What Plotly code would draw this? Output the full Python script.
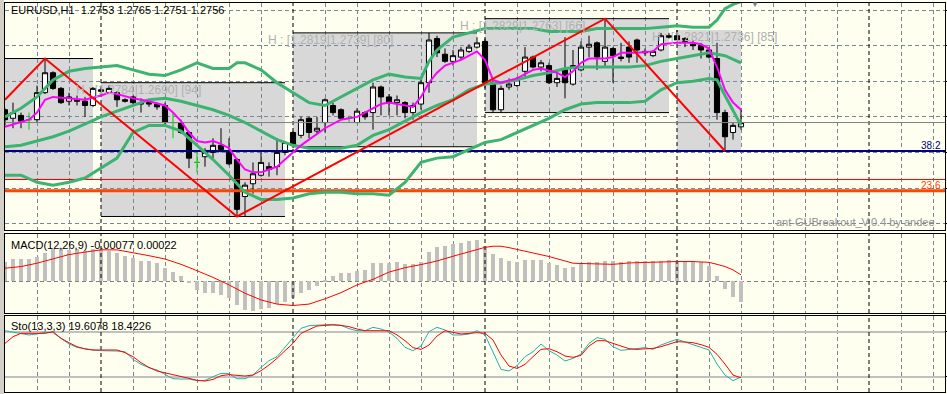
import plotly.graph_objects as go

W, H = 947, 394

# ---------------- data ----------------
symbol = "EURUSD,H1"
bar_index = list(range(93))
open_ = [1.2765, 1.2759, 1.2761, 1.2758, 1.2758, 1.2777, 1.2791, 1.2780, 1.2771, 1.2772,
         1.2771, 1.2768, 1.2779, 1.2777, 1.2777, 1.2772, 1.2774, 1.2770, 1.2770, 1.2769,
         1.2768, 1.2756, 1.2756, 1.2749, 1.2728, 1.2732, 1.2735, 1.2740, 1.2735, 1.2730,
         1.2704, 1.2713, 1.2719, 1.2725, 1.2725, 1.2735, 1.2749, 1.2747, 1.2759, 1.2750,
         1.2756, 1.2768, 1.2765, 1.2759, 1.2756, 1.2763, 1.2763, 1.2781, 1.2774, 1.2770,
         1.2770, 1.2763, 1.2769, 1.2784, 1.2815, 1.2804, 1.2799, 1.2802, 1.2806, 1.2809,
         1.2813, 1.2784, 1.2765, 1.2781, 1.2782, 1.2792, 1.2802, 1.2795, 1.2796, 1.2784,
         1.2793, 1.2783, 1.2793, 1.2809, 1.2812, 1.2799, 1.2808, 1.2801, 1.2809, 1.2814,
         1.2806, 1.2803, 1.2807, 1.2817, 1.2817, 1.2815, 1.2811, 1.2810, 1.2807, 1.2801,
         1.2763, 1.2749, 1.2753]
high = [1.2766, 1.2770, 1.2763, 1.2763, 1.2782, 1.2801, 1.2792, 1.2781, 1.2777, 1.2775,
        1.2774, 1.2781, 1.2780, 1.2782, 1.2778, 1.2773, 1.2775, 1.2773, 1.2772, 1.2770,
        1.2770, 1.2763, 1.2758, 1.2750, 1.2735, 1.2738, 1.2745, 1.2752, 1.2745, 1.2731,
        1.2714, 1.2728, 1.2735, 1.2728, 1.2745, 1.2743, 1.2750, 1.2760, 1.2760, 1.2760,
        1.2773, 1.2770, 1.2766, 1.2761, 1.2766, 1.2764, 1.2784, 1.2782, 1.2776, 1.2775,
        1.2771, 1.2770, 1.2786, 1.2819, 1.2817, 1.2808, 1.2807, 1.2809, 1.2811, 1.2816,
        1.2815, 1.2786, 1.2782, 1.2787, 1.2788, 1.2809, 1.2803, 1.2800, 1.2798, 1.2791,
        1.2816, 1.2807, 1.2813, 1.2817, 1.2813, 1.2829, 1.2809, 1.2812, 1.2813, 1.2815,
        1.2808, 1.2807, 1.2819, 1.2819, 1.2821, 1.2816, 1.2814, 1.2812, 1.2809, 1.2812,
        1.2765, 1.2756, 1.2765]
low = [1.2754, 1.2752, 1.2752, 1.2751, 1.2756, 1.2776, 1.2779, 1.2769, 1.2768, 1.2768,
       1.2760, 1.2767, 1.2777, 1.2776, 1.2767, 1.2770, 1.2769, 1.2763, 1.2767, 1.2765,
       1.2755, 1.2745, 1.2748, 1.2724, 1.2721, 1.2725, 1.2730, 1.2735, 1.2726, 1.2690,
       1.2690, 1.2706, 1.2718, 1.2718, 1.2719, 1.2733, 1.2738, 1.2745, 1.2745, 1.2748,
       1.2749, 1.2761, 1.2758, 1.2756, 1.2756, 1.2758, 1.2751, 1.2761, 1.2761, 1.2761,
       1.2759, 1.2758, 1.2765, 1.2777, 1.2802, 1.2798, 1.2796, 1.2800, 1.2805, 1.2808,
       1.2780, 1.2763, 1.2763, 1.2779, 1.2781, 1.2788, 1.2794, 1.2792, 1.2783, 1.2781,
       1.2773, 1.2782, 1.2792, 1.2802, 1.2793, 1.2795, 1.2784, 1.2799, 1.2798, 1.2798,
       1.2803, 1.2802, 1.2806, 1.2815, 1.2813, 1.2809, 1.2807, 1.2801, 1.2801, 1.2758,
       1.2736, 1.2744, 1.2751]
close = [1.2758, 1.2763, 1.2757, 1.2758, 1.2777, 1.2791, 1.2780, 1.2770, 1.2774, 1.2771,
         1.2768, 1.2780, 1.2778, 1.2780, 1.2772, 1.2771, 1.2770, 1.2769, 1.2769, 1.2767,
         1.2756, 1.2756, 1.2749, 1.2731, 1.2728, 1.2735, 1.2740, 1.2737, 1.2727, 1.2695,
         1.2712, 1.2720, 1.2728, 1.2723, 1.2735, 1.2742, 1.2740, 1.2758, 1.2749, 1.2752,
         1.2772, 1.2763, 1.2759, 1.2759, 1.2764, 1.2760, 1.2781, 1.2774, 1.2770, 1.2772,
         1.2763, 1.2768, 1.2784, 1.2814, 1.2805, 1.2799, 1.2803, 1.2807, 1.2809, 1.2812,
         1.2784, 1.2765, 1.2780, 1.2783, 1.2786, 1.2802, 1.2795, 1.2798, 1.2784, 1.2787,
         1.2784, 1.2796, 1.2809, 1.2811, 1.2802, 1.2809, 1.2803, 1.2802, 1.2802, 1.2807,
         1.2805, 1.2806, 1.2817, 1.2816, 1.2814, 1.2813, 1.2810, 1.2807, 1.2802, 1.2763,
         1.2746, 1.2754, 1.2756]

# Bollinger bands
upper_bars = [0, 2, 4, 6, 8, 10, 12, 14, 16, 18, 20, 22, 24, 26, 28, 29, 30, 32, 34, 36, 38, 40,
              42, 44, 46, 48, 50, 52, 53, 54, 56, 58, 60, 62, 64, 66, 68, 70, 72, 74, 76, 78, 80,
              82, 84, 86, 88, 89, 90, 91, 92]
upper_band = [1.2760, 1.2766, 1.2774, 1.2786, 1.2792, 1.2794, 1.2795, 1.2796, 1.2793, 1.2790,
              1.2789, 1.2793, 1.2798, 1.2794, 1.2794, 1.2798, 1.2798, 1.2793, 1.2784, 1.2777,
              1.2770, 1.2768, 1.2774, 1.2780, 1.2786, 1.2790, 1.2788, 1.2787, 1.2799, 1.2807,
              1.2816, 1.2819, 1.2822, 1.2822, 1.2822, 1.2822, 1.2820, 1.2820, 1.2820, 1.2822,
              1.2822, 1.2822, 1.2822, 1.2823, 1.2824, 1.2823, 1.2823, 1.2828, 1.2836, 1.2839,
              1.2841]
middle_bars = list(range(0, 93, 2))
middle_band = [1.2739, 1.2740, 1.2743, 1.2746, 1.2750, 1.2755, 1.2760, 1.2764, 1.2768, 1.2772,
               1.2773, 1.2771, 1.2768, 1.2765, 1.2761, 1.2756, 1.2750, 1.2744, 1.2740, 1.2738,
               1.2738, 1.2738, 1.2740, 1.2747, 1.2751, 1.2757, 1.2763, 1.2768, 1.2772, 1.2779,
               1.2783, 1.2784, 1.2786, 1.2789, 1.2791, 1.2794, 1.2795, 1.2795, 1.2795, 1.2795,
               1.2796, 1.2799, 1.2801, 1.2803, 1.2805, 1.2803, 1.2798]
lower_bars = list(range(0, 89, 2)) + [89, 90, 91, 92]
lower_band = [1.2719, 1.2719, 1.2714, 1.2712, 1.2714, 1.2717, 1.2724, 1.2731, 1.2749, 1.2754,
              1.2754, 1.2750, 1.2740, 1.2730, 1.2719, 1.2707, 1.2702, 1.2702, 1.2703, 1.2706,
              1.2707, 1.2707, 1.2706, 1.2706, 1.2705, 1.2714, 1.2728, 1.2731, 1.2732, 1.2737,
              1.2742, 1.2744, 1.2749, 1.2754, 1.2759, 1.2765, 1.2769, 1.2770, 1.2770, 1.2770,
              1.2771, 1.2779, 1.2784, 1.2785, 1.2787, 1.2786, 1.2775, 1.2765, 1.2754]

# fast moving average (magenta)
ma_bars = [0, 2, 3, 4, 5, 6, 8, 10, 12, 13, 14, 16, 18, 20, 21, 22, 23, 24, 25, 26, 27, 28, 29,
           30, 31, 32, 33, 34, 35, 36, 37, 38, 39, 40, 42, 44, 45, 46, 47, 48, 50, 51, 52, 53,
           54, 55, 57, 58, 59, 60, 61, 62, 64, 66, 67, 69, 70, 71, 72, 73, 75, 76, 77, 79, 81,
           82, 84, 86, 87, 88, 89, 90, 91, 92]
ma_values = [1.2753, 1.2756, 1.2758, 1.2763, 1.2772, 1.2774, 1.2773, 1.2772, 1.2775, 1.2777,
             1.2776, 1.2773, 1.2771, 1.2768, 1.2763, 1.2757, 1.2749, 1.2743, 1.2742, 1.2743,
             1.2741, 1.2738, 1.2730, 1.2723, 1.2721, 1.2721, 1.2723, 1.2725, 1.2730, 1.2735,
             1.2740, 1.2744, 1.2748, 1.2752, 1.2758, 1.2760, 1.2763, 1.2766, 1.2769, 1.2770,
             1.2768, 1.2767, 1.2774, 1.2784, 1.2791, 1.2796, 1.2800, 1.2803, 1.2806, 1.2800,
             1.2786, 1.2784, 1.2787, 1.2793, 1.2794, 1.2791, 1.2788, 1.2792, 1.2798, 1.2801,
             1.2801, 1.2802, 1.2805, 1.2805, 1.2806, 1.2811, 1.2812, 1.2812, 1.2811, 1.2808,
             1.2795, 1.2779, 1.2770, 1.2765]

# ZigZag
zigzag_bars = [0, 5, 29, 75, 90]
zigzag_values = [1.2772, 1.2801, 1.2690, 1.2829, 1.2736]

# daily range boxes
box_start = [-12, 12, 36, 60, 84]
box_end = [11, 35, 59, 83, 92]
box_high = [1.2801, 1.2784, 1.2819, 1.2829, 1.2821]
box_low = [1.2716, 1.2690, 1.2739, 1.2763, 1.2736]
box_top_line = [True, True, True, True, False]

# horizontal levels
fib_levels = [1.2736, 1.2708]
fib_labels = ["38.2", "23.6"]
fib_colors = ["#000080", "#FF4500"]
fib_widths = [2, 3]
red_level = 1.2716
bid_level = 1.2756
price_grid = [1.2685, 1.2710, 1.2735, 1.2760, 1.2785, 1.2810, 1.2835]

# MACD(12,26,9)
macd_hist = [0.00070, 0.00079, 0.00079, 0.00079, 0.00088, 0.00102, 0.00115, 0.00118, 0.00112, 0.00115,
             0.00109, 0.00115, 0.00115, 0.00109, 0.00100, 0.00090, 0.00082, 0.00073, 0.00072, 0.00064,
             0.00046, 0.00031, 0.00018, -0.00008, -0.00032, -0.00042, -0.00044, -0.00050, -0.00062, -0.00086,
             -0.00104, -0.00107, -0.00102, -0.00098, -0.00083, -0.00074, -0.00062, -0.00042, -0.00032, -0.00018,
             0.00002, 0.00018, 0.00028, 0.00030, 0.00036, 0.00040, 0.00064, 0.00064, 0.00064, 0.00067,
             0.00061, 0.00061, 0.00070, 0.00103, 0.00121, 0.00127, 0.00133, 0.00138, 0.00144, 0.00148,
             0.00126, 0.00097, 0.00083, 0.00072, 0.00068, 0.00076, 0.00076, 0.00076, 0.00065, 0.00058,
             0.00047, 0.00050, 0.00061, 0.00068, 0.00068, 0.00072, 0.00072, 0.00068, 0.00072, 0.00072,
             0.00072, 0.00072, 0.00072, 0.00076, 0.00072, 0.00072, 0.00072, 0.00068, 0.00055, 0.00018,
             -0.00029, -0.00056, -0.00077]
signal_bars = [0, 2, 4, 6, 8, 10, 12, 14, 16, 18, 20, 22, 24, 26, 28, 30, 32, 34, 36, 38, 40, 42,
               44, 46, 48, 50, 52, 54, 56, 58, 59, 60, 61, 62, 63, 64, 66, 68, 70, 71, 72, 74, 76,
               78, 80, 82, 84, 86, 88, 89, 90, 91, 92]
signal_values = [0.00046, 0.00052, 0.00064, 0.00080, 0.00095, 0.00104, 0.00112, 0.00112, 0.00102, 0.00091,
                 0.00079, 0.00060, 0.00037, 0.00013, -0.00014, -0.00044, -0.00068, -0.00083, -0.00088, -0.00083,
                 -0.00064, -0.00042, -0.00014, 0.00006, 0.00032, 0.00048, 0.00059, 0.00072, 0.00089, 0.00105,
                 0.00113, 0.00121, 0.00125, 0.00125, 0.00120, 0.00114, 0.00102, 0.00088, 0.00072, 0.00064,
                 0.00063, 0.00061, 0.00060, 0.00065, 0.00067, 0.00068, 0.00070, 0.00070, 0.00067, 0.00060,
                 0.00052, 0.00040, 0.00022]

# Stochastic(13,3,3)
stoch_k = [81.3, 79.6, 77.8, 75.6, 76.9, 79.1, 78.7, 70.7, 63.6, 59.1,
           56.9, 55.6, 54.7, 54.7, 54.2, 53.3, 43.1, 36.4, 32.0, 28.9,
           23.1, 17.3, 16.9, 16.9, 14.7, 15.1, 20.0, 24.4, 24.0, 17.3,
           17.3, 22.2, 32.4, 41.3, 46.7, 59.1, 72.4, 84.4, 88.0, 88.9,
           88.9, 89.8, 88.4, 84.0, 81.3, 81.3, 85.8, 83.6, 79.6, 71.1,
           59.1, 54.7, 60.9, 80.0, 85.8, 82.2, 75.6, 75.6, 76.9, 81.3,
           75.6, 52.0, 29.8, 27.6, 34.7, 46.7, 53.3, 63.6, 54.7, 48.9,
           40.9, 44.4, 50.2, 64.4, 72.0, 69.8, 60.0, 55.1, 56.4, 57.8,
           58.7, 56.4, 62.2, 66.2, 69.8, 66.2, 63.1, 59.1, 55.6, 36.9,
           22.2, 14.7, 19.6078]
stoch_d = [64.4, 73.3, 77.8, 77.8, 77.8, 77.8, 80.0, 71.1, 65.3, 60.0,
           56.9, 55.6, 55.6, 55.6, 55.6, 52.0, 46.7, 38.7, 32.4, 27.6,
           25.3, 23.1, 20.9, 17.8, 15.1, 14.2, 16.4, 21.3, 22.7, 21.8,
           20.9, 22.2, 28.0, 35.6, 44.4, 54.7, 64.4, 77.8, 83.1, 87.6,
           88.4, 88.9, 88.4, 86.7, 83.6, 81.3, 81.3, 81.3, 81.3, 75.6,
           68.0, 58.7, 56.4, 62.2, 74.2, 81.3, 78.7, 76.9, 77.8, 78.7,
           77.8, 68.9, 48.9, 34.2, 31.1, 36.4, 46.7, 56.4, 57.3, 53.3,
           47.6, 45.8, 48.4, 60.9, 68.0, 68.0, 64.4, 60.9, 57.3, 56.4,
           57.3, 57.8, 60.0, 63.6, 66.7, 66.2, 65.3, 62.7, 59.1, 49.8,
           36.9, 22.2, 18.4226]
stoch_levels = [20, 80]
day_starts = [12, 36, 60, 84, 108]

# ---------------- figure ----------------
FONT = "Liberation Sans"
GRID = "#778899"
DASH = "4px,3px"
XMIN, XMAX = 0, 117.5
Y1 = [1.26805, 1.28400]
Y2 = [-0.00115, 0.00169]
Y3 = [-0.4, 100.9]


def px(xp):
    return xp / W


def py(yp):
    return 1 - yp / H


def seg_lines(pairs):
    xs, ys = [], []
    for (xa, ya), (xb, yb) in pairs:
        xs += [xa, xb, None]
        ys += [ya, yb, None]
    return xs, ys


fig = go.Figure()
NOHOV = dict(showlegend=False, hoverinfo="skip")

# day separators (black dashed) for each panel
for xa, ya, rng in [("x", "y", Y1), ("x2", "y2", Y2), ("x3", "y3", Y3)]:
    xs, ys = seg_lines([((d, rng[0]), (d, rng[1])) for d in day_starts])
    fig.add_trace(go.Scatter(x=xs, y=ys, mode="lines", line=dict(color="black", width=1, dash=DASH),
                             xaxis=xa, yaxis=ya, **NOHOV))

# box edges
edge_pairs = []
for s, e, hi, lo, tl in zip(box_start, box_end, box_high, box_low, box_top_line):
    s = max(s, XMIN)
    edge_pairs.append(((s, lo), (e, lo)))
    if tl:
        edge_pairs.append(((s, hi), (e, hi)))
xs, ys = seg_lines(edge_pairs)
fig.add_trace(go.Scatter(x=xs, y=ys, mode="lines", line=dict(color="black", width=1),
                         xaxis="x", yaxis="y", **NOHOV))

# horizontal levels
for lv, c, w in [(bid_level, "#808080", 1), (red_level, "#FF0000", 1)] + list(zip(fib_levels, fib_colors, fib_widths)):
    fig.add_trace(go.Scatter(x=[XMIN, XMAX], y=[lv, lv], mode="lines", line=dict(color=c, width=w),
                             xaxis="x", yaxis="y", **NOHOV))

normal = [i for i in bar_index if open_[i] != close[i]]
doji = [i for i in bar_index if open_[i] == close[i]]

fig.add_trace(go.Candlestick(
    x=[bar_index[i] for i in normal], open=[open_[i] for i in normal],
    high=[high[i] for i in normal], low=[low[i] for i in normal], close=[close[i] for i in normal],
    increasing=dict(fillcolor="white", line=dict(color="black", width=1)),
    decreasing=dict(fillcolor="black", line=dict(color="black", width=1)),
    whiskerwidth=0, xaxis="x", yaxis="y", **NOHOV))
fig.add_trace(go.Candlestick(
    x=[bar_index[i] for i in doji], open=[open_[i] for i in doji],
    high=[high[i] for i in doji], low=[low[i] for i in doji], close=[close[i] for i in doji],
    increasing=dict(fillcolor="#00CC00", line=dict(color="#00CC00", width=1)),
    decreasing=dict(fillcolor="#00CC00", line=dict(color="#00CC00", width=1)),
    whiskerwidth=0, xaxis="x", yaxis="y", **NOHOV))

band_color = "#3CB371"
for bx, by in [(upper_bars, upper_band), (middle_bars, middle_band), (lower_bars, lower_band)]:
    fig.add_trace(go.Scatter(x=bx, y=by, mode="lines", line=dict(color=band_color, width=3),
                             xaxis="x", yaxis="y", **NOHOV))
fig.add_trace(go.Scatter(x=ma_bars, y=ma_values, mode="lines", line=dict(color="#FF00FF", width=2),
                         xaxis="x", yaxis="y", **NOHOV))
fig.add_trace(go.Scatter(x=zigzag_bars, y=zigzag_values, mode="lines", line=dict(color="#FF0000", width=2),
                         xaxis="x", yaxis="y", **NOHOV))

fig.add_trace(go.Bar(x=bar_index, y=macd_hist, marker=dict(color="#C0C0C0", line=dict(width=0)),
                     width=0.4, xaxis="x2", yaxis="y2", **NOHOV))
fig.add_trace(go.Scatter(x=signal_bars, y=signal_values, mode="lines", line=dict(color="#FF0000", width=1),
                         xaxis="x2", yaxis="y2", **NOHOV))

fig.add_trace(go.Scatter(x=bar_index, y=stoch_k, mode="lines", line=dict(color="#20B2AA", width=1),
                         xaxis="x3", yaxis="y3", **NOHOV))
fig.add_trace(go.Scatter(x=bar_index, y=stoch_d, mode="lines", line=dict(color="#FF0000", width=1),
                         xaxis="x3", yaxis="y3", **NOHOV))

shapes = []
shapes.append(dict(type="rect", xref="paper", yref="paper", x0=0, x1=px(4), y0=0, y1=1,
                   fillcolor="#D4D0C8", line=dict(width=0), layer="below"))
for s, e, hi, lo in zip(box_start, box_end, box_high, box_low):
    shapes.append(dict(type="rect", xref="x", yref="y", x0=max(s, XMIN), x1=e, y0=lo, y1=hi,
                       fillcolor="#D8D8D8", line=dict(width=0), layer="below"))

annotations = []
annotations.append(dict(xref="paper", yref="paper", x=px(9), y=py(10),
                        text=f"{symbol}  {open_[-1]:.4f} {high[-1]:.4f} {low[-1]:.4f} {close[-1]:.4f}",
                        showarrow=False, xanchor="left", yanchor="middle",
                        font=dict(family=FONT, size=11, color="black")))
annotations.append(dict(xref="paper", yref="paper", x=px(9), y=py(245),
                        text=f"MACD(12,26,9) {macd_hist[-1]:.5f} {signal_values[-1]:.5f}",
                        showarrow=False, xanchor="left", yanchor="middle",
                        font=dict(family=FONT, size=11, color="black")))
annotations.append(dict(xref="paper", yref="paper", x=px(9), y=py(326),
                        text=f"Sto(13,3,3) {stoch_k[-1]:.4f} {stoch_d[-1]:.4f}",
                        showarrow=False, xanchor="left", yanchor="middle",
                        font=dict(family=FONT, size=11, color="black")))
for s, hi, lo in zip(box_start, box_high, box_low):
    if s < 0:
        continue
    pips = round((hi - lo) * 10000)
    annotations.append(dict(xref="x", yref="y", x=s - 3.4, y=hi - 0.0005,
                            text=f"H : [{hi:.4f}|{lo:.4f}] [{pips}]", showarrow=False,
                            xanchor="left", yanchor="middle",
                            font=dict(family=FONT, size=12, color="#B0B0B0")))
for lv, lab, c in zip(fib_levels, fib_labels, fib_colors):
    annotations.append(dict(xref="paper", yref="y", x=px(943), y=lv, text=lab, showarrow=False,
                            xanchor="right", yanchor="bottom", yshift=-2,
                            font=dict(family=FONT, size=10, color=c)))
annotations.append(dict(xref="paper", yref="paper", x=px(937), y=py(222),
                        text="ant-GUBreakout_V.0.4 by andee", showarrow=False,
                        xanchor="right", yanchor="middle",
                        font=dict(family=FONT, size=11, color="#909090")))
annotations.append(dict(xref="paper", yref="paper", x=px(755), y=py(4), text="▼", showarrow=False,
                        xanchor="center", yanchor="middle",
                        font=dict(family=FONT, size=8, color="#708090")))

xdom = [px(5), px(945)]
xgrid = [v for v in range(0, 120, 4) if v not in day_starts]
xcommon = dict(domain=xdom, range=[XMIN, XMAX], showticklabels=False, ticks="",
               tickvals=xgrid, showgrid=True, gridcolor=GRID, griddash=DASH, gridwidth=1,
               zeroline=False, showline=True, linecolor="black", linewidth=1, mirror=True,
               rangeslider=dict(visible=False), fixedrange=True)
ycommon = dict(side="right", ticks="outside", ticklen=3, tickcolor="black", showticklabels=False,
               zeroline=False, showline=True, linecolor="black", linewidth=1, mirror=True,
               fixedrange=True)

fig.update_layout(
    width=W, height=H, margin=dict(l=0, r=0, t=0, b=0),
    paper_bgcolor="#FFFFF0", plot_bgcolor="#FFFFF0",
    boxgap=0.2, boxgroupgap=0.2, bargap=0,
    showlegend=False,
    xaxis=dict(**xcommon, anchor="y"),
    xaxis2=dict(**xcommon, anchor="y2", matches="x"),
    xaxis3=dict(**xcommon, anchor="y3", matches="x"),
    yaxis=dict(**ycommon, domain=[py(230), py(3)], range=Y1, anchor="x",
               tickvals=price_grid, showgrid=True, gridcolor=GRID, griddash=DASH, gridwidth=1),
    yaxis2=dict(**ycommon, domain=[py(313), py(234)], range=Y2, anchor="x2",
                tickvals=[0], showgrid=True, gridcolor="#808080", griddash=DASH, gridwidth=1),
    yaxis3=dict(**ycommon, domain=[py(392), py(316)], range=Y3, anchor="x3",
                tickvals=stoch_levels, showgrid=True, gridcolor="#C0C0C0", gridwidth=2),
    shapes=shapes, annotations=annotations,
)

fig.write_html("out.html")
